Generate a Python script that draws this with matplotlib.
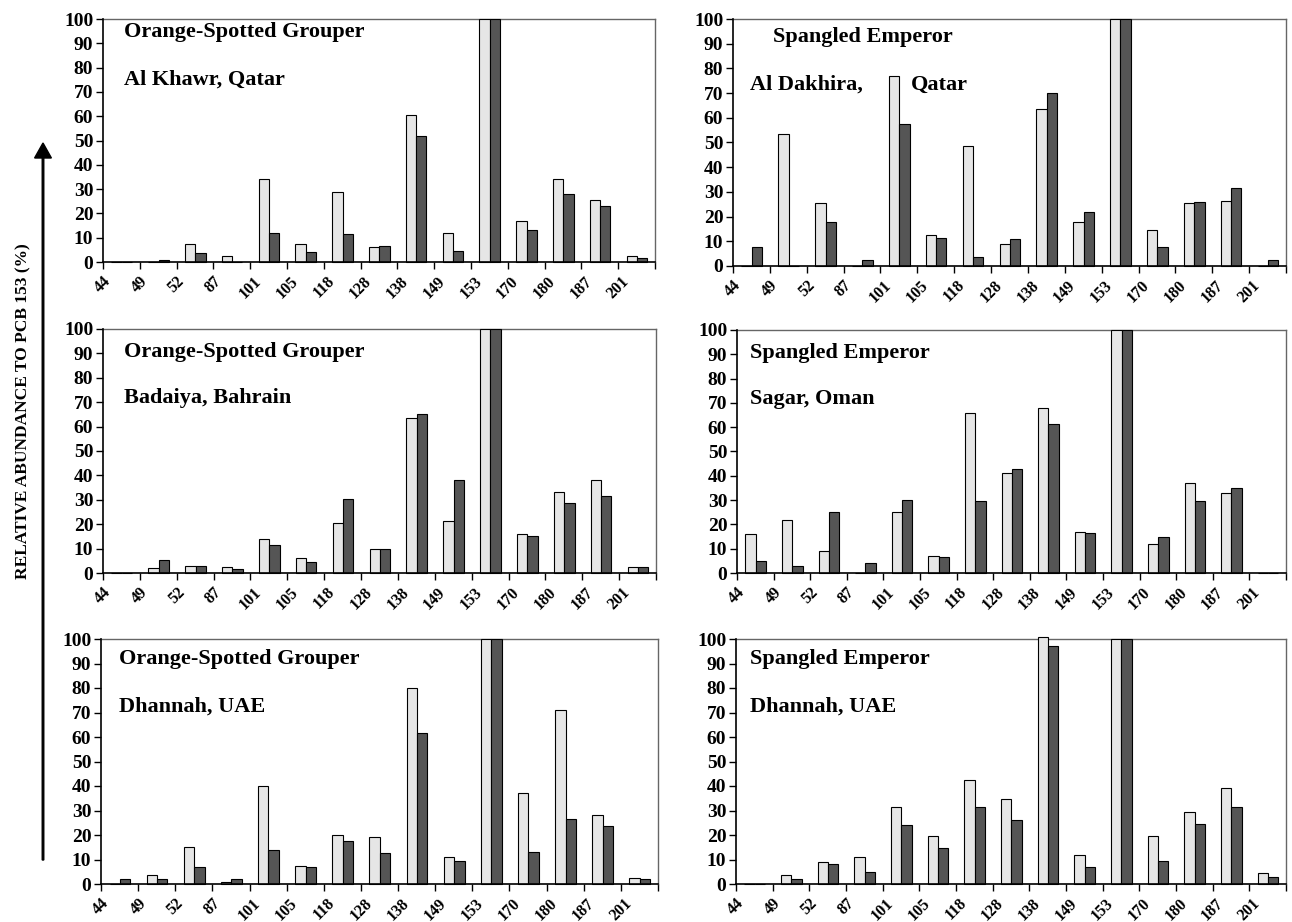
import matplotlib
matplotlib.use('Agg')
import matplotlib.pyplot as plt
import numpy as np

plt.rcParams['font.family'] = 'Liberation Serif'
plt.rcParams['font.weight'] = 'bold'

congeners = ['44', '49', '52', '87', '101', '105', '118', '128', '138',
             '149', '153', '170', '180', '187', '201']

# grouper, Al Khawr (Qatar)
khawr_light = [0, 0, 7.5, 2.5, 34, 7.5, 29, 6, 60.5, 12, 100, 17, 34, 25.5, 2.5]
khawr_dark = [0, 1, 3.5, 0, 12, 4, 11.5, 6.5, 52, 4.5, 100, 13, 28, 23, 1.5]
# emperor, Al Dakhira (Qatar)
dakhira_light = [0, 53.5, 25.5, 0, 77, 12.5, 48.5, 9, 63.5, 18, 100, 14.5, 25.5, 26.5, 0]
dakhira_dark = [7.5, 0, 18, 2.5, 57.5, 11.5, 3.5, 11, 70, 22, 100, 7.5, 26, 31.5, 2.5]
# grouper, Badaiya (Bahrain)
badaiya_light = [0, 2, 3, 2.5, 14, 6, 20.5, 10, 63.5, 21.5, 100, 16, 33, 38, 2.5]
badaiya_dark = [0, 5.5, 3, 1.5, 11.5, 4.5, 30.5, 10, 65, 38, 100, 15, 28.5, 31.5, 2.5]
# emperor, Sagar (Oman)
sagar_light = [16, 22, 9, 0, 25, 7, 66, 41, 68, 17, 100, 12, 37, 33, 0]
sagar_dark = [5, 3, 25, 4, 30, 6.5, 29.5, 43, 61.5, 16.5, 100, 15, 29.5, 35, 0]
# grouper, Dhannah (UAE)
dhannah_g_light = [0, 3.5, 15, 1, 40, 7.5, 20, 19, 80, 11, 100, 37, 71, 28, 2.5]
dhannah_g_dark = [2, 2, 7, 2, 14, 7, 17.5, 12.5, 61.5, 9.5, 100, 13, 26.5, 23.5, 2]
# emperor, Dhannah (UAE)
dhannah_e_light = [0, 3.5, 9, 11, 31.5, 19.5, 42.5, 34.5, 101, 12, 100, 19.5, 29.5, 39, 4.5]
dhannah_e_dark = [0, 2, 8, 5, 24, 14.5, 31.5, 26, 97, 7, 100, 9.5, 24.5, 31.5, 3]

W, H = 1292, 922
fig = plt.figure(figsize=(W / 100, H / 100), dpi=100)


def px_rect(x0, y0, x1, y1):
    return [x0 / W, 1 - y1 / H, (x1 - x0) / W, (y1 - y0) / H]


panels = [
    (px_rect(103, 19, 655, 262), khawr_light, khawr_dark,
     [(0.038, 0.945, 'Orange-Spotted Grouper'), (0.038, 0.749, 'Al Khawr, Qatar')]),
    (px_rect(733, 19, 1286, 266), dakhira_light, dakhira_dark,
     [(0.072, 0.926, 'Spangled Emperor'), (0.031, 0.733, 'Al Dakhira,'), (0.322, 0.733, 'Qatar')]),
    (px_rect(103, 329, 656, 573), badaiya_light, badaiya_dark,
     [(0.038, 0.907, 'Orange-Spotted Grouper'), (0.038, 0.716, 'Badaiya, Bahrain')]),
    (px_rect(737, 330, 1286, 573), sagar_light, sagar_dark,
     [(0.024, 0.907, 'Spangled Emperor'), (0.024, 0.714, 'Sagar, Oman')]),
    (px_rect(101, 639, 658, 884), dhannah_g_light, dhannah_g_dark,
     [(0.032, 0.919, 'Orange-Spotted Grouper'), (0.032, 0.724, 'Dhannah, UAE')]),
    (px_rect(736, 639, 1286, 884), dhannah_e_light, dhannah_e_dark,
     [(0.026, 0.917, 'Spangled Emperor'), (0.026, 0.725, 'Dhannah, UAE')]),
]

x = np.arange(len(congeners))
for rect, light, dark, texts in panels:
    ax = fig.add_axes(rect)
    ax.bar(x + 0.37, light, width=0.28, color='#e6e6e6', edgecolor='black',
           linewidth=0.8, clip_on=False, zorder=3)
    ax.bar(x + 0.65, dark, width=0.28, color='#555555', edgecolor='black',
           linewidth=0.8, clip_on=False, zorder=3)
    ax.set_xlim(0, len(congeners))
    ax.set_ylim(0, 100)
    ax.set_yticks(range(0, 101, 10))
    ax.set_xticks(range(len(congeners) + 1))
    ax.set_xticklabels(congeners + [''], rotation=45, fontsize=11.5, fontweight='bold')
    ax.tick_params(axis='y', labelsize=14, length=5, width=1, pad=2)
    ax.tick_params(axis='x', length=5, width=1, pad=3)
    for lbl in ax.get_yticklabels():
        lbl.set_fontweight('bold')
    for side in ['left', 'bottom']:
        ax.spines[side].set_linewidth(1.2)
        ax.spines[side].set_zorder(4)
    for side in ['top', 'right']:
        ax.spines[side].set_color('#666666')
        ax.spines[side].set_linewidth(1)
    for tx, ty, s in texts:
        ax.text(tx, ty, s, transform=ax.transAxes, fontsize=16, fontweight='bold',
                ha='left', va='center')

fig.text(23 / W, 1 - 411 / H, 'RELATIVE ABUNDANCE TO PCB 153 (%)', rotation=90,
         ha='center', va='center', fontsize=12.5, fontweight='bold')
fig.add_artist(matplotlib.patches.FancyArrow(
    43 / W, 1 - 860 / H, 0, (860 - 158) / H, width=0.0012, head_width=0.013,
    head_length=15 / H, length_includes_head=False, color='black',
    transform=fig.transFigure))

fig.savefig('out.png', dpi=100)
